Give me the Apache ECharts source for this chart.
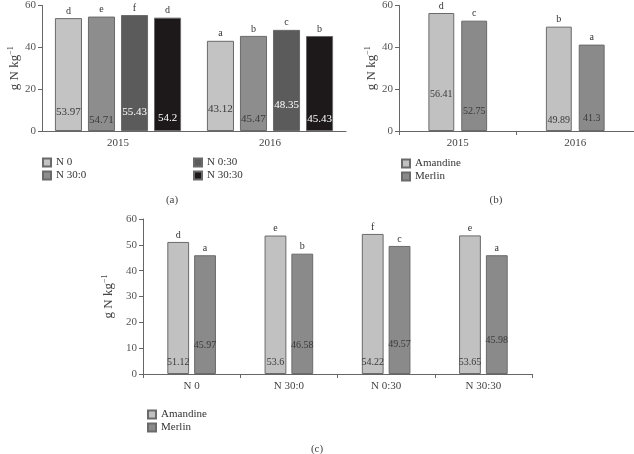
<!DOCTYPE html>
<html>
<head>
<meta charset="utf-8">
<script src="https://cdn.jsdelivr.net/npm/echarts@6/dist/echarts.min.js"></script>
<style>
html,body{margin:0;padding:0;background:#fff;}
#chart{width:634px;height:454px;}
</style>
</head>
<body>
<div id="chart"></div>
<script>
// ---- Data ----
const yearsA = ['2015', '2016'];
const seriesNamesA = ['N 0', 'N 30:0', 'N 0:30', 'N 30:30'];
const valuesN0 = [53.97, 43.12];
const valuesN300 = [54.71, 45.47];
const valuesN030 = [55.43, 48.35];
const valuesN3030 = [54.2, 45.43];
const lettersN0 = ['d', 'a'];
const lettersN300 = ['e', 'b'];
const lettersN030 = ['f', 'c'];
const lettersN3030 = ['d', 'b'];

const yearsB = ['2015', '2016'];
const amandineB = [56.41, 49.89];
const merlinB = [52.75, 41.3];
const lettersAmandineB = ['d', 'b'];
const lettersMerlinB = ['c', 'a'];

const treatmentsC = ['N 0', 'N 30:0', 'N 0:30', 'N 30:30'];
const amandineC = [51.12, 53.6, 54.22, 53.65];
const merlinC = [45.97, 46.58, 49.57, 45.98];
const lettersAmandineC = ['d', 'e', 'f', 'e'];
const lettersMerlinC = ['a', 'b', 'c', 'a'];

// ---- Styling (label lift above bar base, px) ----
const liftA = [[13, 16], [5, 6], [13, 20], [7, 6]];
const liftB = [[32, 6], [15, 8]];
const liftC = [[7, 7, 7, 7], [24, 24, 25, 29]];

const FONT = 'Liberation Serif';
const colorsA = ['#c3c3c3', '#8d8d8d', '#5b5b5b', '#1d191b'];
const labelColorsA = ['#3a3a3a', '#3a3a3a', '#ffffff', '#ffffff'];
const colorAmandine = '#c1c1c1';
const colorMerlin = '#8a8a8a';

function makeSeries(name, cats, values, letters, lifts, color, labelColor, axisIdx, fontSize, gapCfg) {
  const s = {
    type: 'bar',
    name: name,
    xAxisIndex: axisIdx,
    yAxisIndex: axisIdx,
    data: values.map((v, i) => ({
      value: v,
      label: { distance: lifts[i] }
    })),
    itemStyle: { color: color, borderColor: '#6a6a6a', borderWidth: 1 },
    label: {
      show: true,
      position: 'insideBottom',
      formatter: p => String(p.value),
      fontFamily: FONT,
      fontSize: fontSize,
      color: labelColor
    },
    markPoint: {
      symbol: 'rect',
      symbolSize: 0,
      silent: true,
      label: {
        show: true,
        position: 'top',
        distance: 2,
        fontFamily: FONT,
        fontSize: 10,
        color: '#333',
        formatter: p => p.name
      },
      data: values.map((v, i) => ({ name: letters[i], coord: [cats[i], v] }))
    }
  };
  Object.assign(s, gapCfg);
  return s;
}

const axisLineStyle = { color: '#666', width: 1 };
const yName = 'g N kg{sup|−1}';
const yNameStyle = {
  fontFamily: FONT, fontSize: 13, color: '#444',
  rich: { sup: { fontFamily: FONT, fontSize: 8, color: '#444', padding: [0, 0, 7, 0] } }
};

function yAxis(gridIndex, max, interval, nameGap) {
  return {
    type: 'value', gridIndex: gridIndex, min: 0, max: max, interval: interval,
    name: yName, nameLocation: 'middle', nameGap: nameGap, nameRotate: 90,
    nameTextStyle: yNameStyle,
    axisLine: { show: true, lineStyle: axisLineStyle },
    axisTick: { show: true, length: 4, lineStyle: axisLineStyle },
    axisLabel: { fontFamily: FONT, fontSize: 11, color: '#555', margin: 6 },
    splitLine: { show: false }
  };
}

function xAxis(gridIndex, cats, ticks) {
  return {
    type: 'category', gridIndex: gridIndex, data: cats,
    axisLine: { show: true, lineStyle: axisLineStyle },
    axisTick: { show: ticks, length: 4, alignWithLabel: false, lineStyle: axisLineStyle },
    axisLabel: { fontFamily: FONT, fontSize: 11, color: '#444', margin: 7 }
  };
}

const series = [];
const valsA = [valuesN0, valuesN300, valuesN030, valuesN3030];
const letA = [lettersN0, lettersN300, lettersN030, lettersN3030];
for (let k = 0; k < 4; k++) {
  series.push(makeSeries(seriesNamesA[k], yearsA, valsA[k], letA[k], liftA[k], colorsA[k], labelColorsA[k], 0, 11,
    k === 3 ? { barGap: '22%', barCategoryGap: '17%' } : {}));
}
series.push(makeSeries('Amandine', yearsB, amandineB, lettersAmandineB, liftB[0], colorAmandine, '#3a3a3a', 1, 10, {}));
series.push(makeSeries('Merlin', yearsB, merlinB, lettersMerlinB, liftB[1], colorMerlin, '#3a3a3a', 1, 10,
  { barGap: '27%', barCategoryGap: '50%' }));
series.push(makeSeries('Amandine', treatmentsC, amandineC, lettersAmandineC, liftC[0], colorAmandine, '#3a3a3a', 2, 10, {}));
series.push(makeSeries('Merlin', treatmentsC, merlinC, lettersMerlinC, liftC[1], colorMerlin, '#3a3a3a', 2, 10,
  { barGap: '23%', barCategoryGap: '50%' }));

const legendText = { fontFamily: FONT, fontSize: 11, color: '#333' };
function legend(left, top, names) {
  return {
    left: left, top: top, orient: 'vertical', data: names, icon: 'rect',
    itemWidth: 8, itemHeight: 8, itemGap: 2, padding: 0, selectedMode: false,
    textStyle: legendText
  };
}

const option = {
  animation: false,
  backgroundColor: '#fff',
  grid: [
    { left: 42, top: 4, width: 304, height: 127 },
    { left: 399, top: 4, width: 235, height: 127 },
    { left: 143, top: 219, width: 389, height: 155 }
  ],
  xAxis: [xAxis(0, yearsA, false), xAxis(1, yearsB, true), xAxis(2, treatmentsC, true)],
  yAxis: [yAxis(0, 60, 20, 20), yAxis(1, 60, 20, 20), yAxis(2, 60, 10, 24)],
  legend: [
    legend(42, 157, ['N 0', 'N 30:0']),
    legend(193, 157, ['N 0:30', 'N 30:30']),
    legend(401, 158, ['Amandine', 'Merlin']),
    legend(147, 409, ['Amandine', 'Merlin'])
  ],
  graphic: [
    { type: 'text', x: 172, y: 200, style: { text: '(a)', font: '11px ' + FONT, fill: '#444', textAlign: 'center', textVerticalAlign: 'middle' } },
    { type: 'text', x: 496, y: 200, style: { text: '(b)', font: '11px ' + FONT, fill: '#444', textAlign: 'center', textVerticalAlign: 'middle' } },
    { type: 'text', x: 317, y: 449, style: { text: '(c)', font: '11px ' + FONT, fill: '#444', textAlign: 'center', textVerticalAlign: 'middle' } }
  ],
  series: series
};

const chart = echarts.init(document.getElementById('chart'), null, { renderer: 'canvas' });
chart.setOption(option);
</script>
</body>
</html>
